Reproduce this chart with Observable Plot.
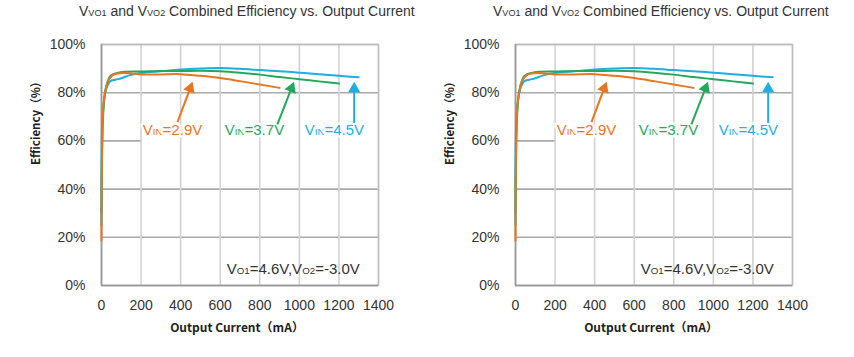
<!DOCTYPE html>
<html>
<head>
<meta charset="utf-8">
<script src="https://cdn.jsdelivr.net/npm/d3@7"></script>
<script src="https://cdn.jsdelivr.net/npm/@observablehq/plot@0.6"></script>
<style>
  body { margin: 0; background: #fff; }
  #wrap { position: relative; width: 854px; height: 357px; overflow: hidden; background: #fff; }
  .chart { position: absolute; top: 0; width: 427px; height: 357px; }
  .title { position: absolute; top: 3px; left: 79px; font: 14px/16px "Liberation Sans", Arial, sans-serif; color: #333; white-space: nowrap; }
  .title sub { font-size: 0.65em; vertical-align: baseline; }
  .chart svg { position: absolute; left: 0; top: 0; font-family: "Liberation Sans", Arial, sans-serif; background: transparent !important; max-width: none !important; overflow: visible; color: #333; }
</style>
</head>
<body>
<div id="wrap"></div>
<script>
// ---- data ----
const titleText = "V_{VO1} and V_{VO2} Combined Efficiency vs. Output Current";
const xTicks = [0, 200, 400, 600, 800, 1000, 1200, 1400];
const yTicks = [0, 20, 40, 60, 80, 100];
const xLabel = "Output Current（mA）";
const yLabel = "Efficiency（%）";

const seriesNames = ["VIN=2.9V", "VIN=3.7V", "VIN=4.5V"];
const seriesColors = ["#E8761E", "#22A95B", "#1DAEE2"];

const currentBlue = [0, 0, 1, 4, 8, 18, 30, 45, 70, 100, 140, 200, 300, 400, 500, 600, 700, 800, 900, 1000, 1100, 1200, 1300];
const effBlue     = [25, 50, 58, 68, 73, 79.6, 83, 84.8, 85.4, 86, 87.2, 88.2, 88.9, 89.6, 90, 90.2, 89.9, 89.4, 88.9, 88.3, 87.7, 87, 86.4];

const currentGreen = [0, 3, 8, 15, 25, 45, 80, 120, 200, 300, 400, 500, 600, 700, 800, 900, 1000, 1100, 1200];
const effGreen     = [30, 55, 70, 78, 83, 87, 88.2, 88.7, 88.8, 89, 89, 89.1, 88.9, 88.3, 87.5, 86.5, 85.6, 84.7, 83.8];

const currentOrange = [0, 0, 2, 5, 10, 20, 35, 55, 80, 110, 150, 200, 300, 400, 500, 600, 700, 800, 900];
const effOrange     = [18.7, 25, 50, 65, 75, 81, 85, 87.2, 88, 88.2, 88, 87.6, 87.6, 87.7, 87, 86.1, 84.8, 83.4, 82];

// annotation labels and arrows (data units)
const labelTexts = ["V_{IN}=2.9V", "V_{IN}=3.7V", "V_{IN}=4.5V"];
const labelX = [359, 773, 1177];
const labelY = [64.4, 64.4, 64.4];
const arrowTailX = [384, 889, 1277];
const arrowTailY = [67.8, 66.9, 67.4];
const arrowHeadX = [448, 960, 1277];
const arrowHeadY = [81.8, 81.8, 81.6];
const arrowAngle = [20.6, 21.8, 0];
const labelBand = [205, 1400, 58.8, 70];   // white backdrop behind the labels: x1, x2, y1, y2

const noteText = "V_{O1}=4.6V,V_{O2}=-3.0V";
const noteX = 969, noteY = 6.6;

// ---- build tables ----
function rows(xs, ys, s) { return xs.map((x, i) => ({ current: x, eff: ys[i], series: s })); }
const lineData = [
  ...rows(currentBlue, effBlue, seriesNames[2]),
  ...rows(currentGreen, effGreen, seriesNames[1]),
  ...rows(currentOrange, effOrange, seriesNames[0])
];
const labels = labelTexts.map((t, i) => ({ text: t, x: labelX[i], y: labelY[i], color: seriesColors[i] }));
const arrows = arrowTailX.map((x, i) => ({ x1: x, y1: arrowTailY[i], x2: arrowHeadX[i], y2: arrowHeadY[i], angle: arrowAngle[i], color: seriesColors[i] }));
const band = [{ x1: labelBand[0], x2: labelBand[1], y1: labelBand[2], y2: labelBand[3] }];

function applySubs(svg) {
  d3.select(svg).selectAll("text").each(function () {
    const t = this.textContent;
    if (!t.includes("_{")) return;
    const sel = d3.select(this);
    sel.text("");
    const re = /_\{([^}]*)\}/g;
    let last = 0, m;
    while ((m = re.exec(t))) {
      if (m.index > last) sel.append("tspan").text(t.slice(last, m.index));
      sel.append("tspan").attr("font-size", "0.65em").text(m[1]);
      last = re.lastIndex;
    }
    if (last < t.length) sel.append("tspan").text(t.slice(last));
  });
}

function makeChart() {
  const svg = Plot.plot({
    width: 427,
    height: 357,
    marginLeft: 101,
    marginRight: 49,
    marginTop: 44,
    marginBottom: 72,
    x: { domain: [0, 1400] },
    y: { domain: [0, 100] },
    color: { domain: seriesNames, range: [seriesColors[0], seriesColors[1], seriesColors[2]] },
    marks: [
      Plot.gridY(yTicks, { stroke: "#a9a9a9", strokeOpacity: 1, strokeWidth: 1.6 }),
      Plot.rect(band, { x1: "x1", x2: "x2", y1: "y1", y2: "y2", fill: "white" }),
      Plot.gridX(xTicks, { stroke: "#d2d2d2", strokeOpacity: 1, strokeWidth: 1.6 }),
      Plot.frame({ stroke: "#bdbdbd", strokeWidth: 1.4 }),
      Plot.ruleX([0], { stroke: "#9a9a9a", strokeWidth: 1.6 }),
      Plot.ruleY([0], { stroke: "#9a9a9a", strokeWidth: 1.6 }),
      Plot.axisX({ ticks: xTicks, tickSize: 0, tickPadding: 15, fontSize: 14, label: null, tickFormat: d => String(d), fill: "#333" }),
      Plot.axisY({ ticks: yTicks, tickSize: 0, tickPadding: 16, fontSize: 14, label: null, tickFormat: d => d + "%", fill: "#333" }),
      Plot.text([xLabel], { frameAnchor: "bottom", text: d => d, dy: 46, dx: -3, fontSize: 12, fontWeight: "bold", fill: "#222", fontFamily: "'Noto Sans CJK SC', sans-serif" }),
      Plot.text([yLabel], { frameAnchor: "left", text: d => d, dx: -65, rotate: -90, fontSize: 11.5, fontWeight: "bold", fill: "#222", fontFamily: "'Noto Sans CJK SC', sans-serif" }),
      Plot.text(labels, { x: "x", y: "y", text: "text", fill: "color", stroke: "white", strokeWidth: 5, fontSize: 15 }),
      Plot.line(lineData, { x: "current", y: "eff", z: "series", stroke: "series", strokeWidth: 2, curve: "catmull-rom" }),
      Plot.link(arrows, { x1: "x1", y1: "y1", x2: "x2", y2: "y2", stroke: "color", strokeWidth: 2 }),
      Plot.dot(arrows, { x: "x2", y: "y2", symbol: "triangle", r: 4.5, fill: "color", stroke: "none", rotate: "angle" }),
      Plot.text([noteText], { x: noteX, y: noteY, text: d => d, fontSize: 15, fill: "#333" })
    ]
  });
  applySubs(svg);
  return svg;
}

function titleHTML(t) { return t.replace(/_\{([^}]*)\}/g, "<sub>$1</sub>"); }

const wrap = document.getElementById("wrap");
[0, 414].forEach(left => {
  const div = document.createElement("div");
  div.className = "chart";
  div.style.left = left + "px";
  div.appendChild(makeChart());
  const t = document.createElement("div");
  t.className = "title";
  t.innerHTML = titleHTML(titleText);
  div.appendChild(t);
  wrap.appendChild(div);
});
</script>
</body>
</html>
